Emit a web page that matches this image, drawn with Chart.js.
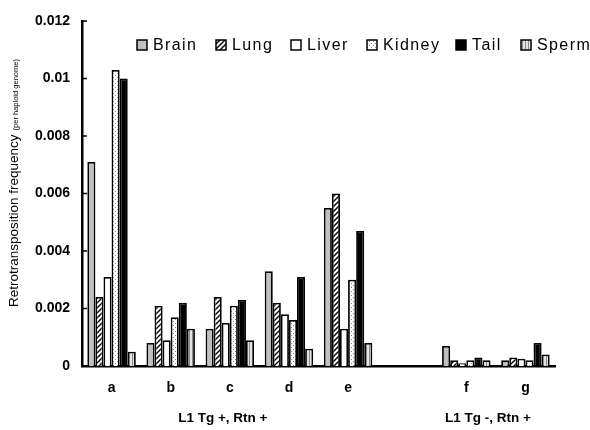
<!DOCTYPE html>
<html>
<head>
<meta charset="utf-8">
<script src="https://cdn.jsdelivr.net/npm/chart.js"></script>
<style>
  html, body { margin: 0; padding: 0; background: #fff; }
  #wrap { width: 590px; height: 430px; }
</style>
</head>
<body>
<div id="wrap"><canvas id="chart"></canvas></div>
<script>
// samples a-e are L1 Tg +, f-g are L1 Tg -; the '' slot is just the gap between the two groups
const samples = ['a', 'b', 'c', 'd', 'e', '', 'f', 'g'];
const tissues = ['Brain', 'Lung', 'Liver', 'Kidney', 'Tail', 'Sperm'];

const brain  = [0.0071, 0.0008, 0.0013, 0.0033, 0.0055, null, 0.0007, 0.0002];
const lung   = [0.0024, 0.0021, 0.0024, 0.0022, 0.0060, null, 0.0002, 0.0003];
const liver  = [0.0031, 0.0009, 0.0015, 0.0018, 0.0013, null, 0.0001, 0.00025];
const kidney = [0.0103, 0.0017, 0.0021, 0.0016, 0.0030, null, 0.0002, 0.0002];
const tail   = [0.0100, 0.0022, 0.0023, 0.0031, 0.0047, null, 0.0003, 0.0008];
const sperm  = [0.0005, 0.0013, 0.0009, 0.0006, 0.0008, null, 0.0002, 0.0004];

const yTicks = [0, 0.002, 0.004, 0.006, 0.008, 0.01, 0.012];
const groupLabels = ['L1 Tg +, Rtn +', 'L1 Tg -, Rtn +'];

// little offscreen tiles for the black & white fills
const makeTile = (w, h, paint) => {
  const c = document.createElement('canvas');
  c.width = w; c.height = h;
  const g = c.getContext('2d');
  paint(g);
  return g.createPattern(c, 'repeat');
};

const hatchFill = makeTile(5, 5, (g) => {
  g.fillStyle = '#fff';
  g.fillRect(0, 0, 5, 5);
  g.strokeStyle = '#000';
  g.lineWidth = 1.4;
  g.beginPath();
  g.moveTo(-1, 6); g.lineTo(6, -1);
  g.moveTo(-1, 1); g.lineTo(1, -1);
  g.moveTo(4, 6); g.lineTo(6, 4);
  g.stroke();
});

const dotFill = makeTile(4, 4, (g) => {
  g.fillStyle = '#fff';
  g.fillRect(0, 0, 4, 4);
  g.fillStyle = '#888';
  g.fillRect(1, 1, 1, 1);
  g.fillRect(3, 3, 1, 1);
});

const stripeFill = makeTile(3, 3, (g) => {
  g.fillStyle = '#e4e4e4';
  g.fillRect(0, 0, 3, 3);
  g.fillStyle = '#8a8a8a';
  g.fillRect(0, 0, 1, 3);
});

const fills = ['#c0c0c0', hatchFill, '#fff', dotFill, '#000', stripeFill];
const series = [brain, lung, liver, kidney, tail, sperm];

const datasets = tissues.map((name, i) => ({
  label: name,
  data: series[i],
  backgroundColor: fills[i],
  borderColor: '#000',
  borderWidth: 1.8,
  categoryPercentage: 0.82,
  barPercentage: 1.0,
}));

// legend boxes sit inside the plot area, so draw them by hand
const legendX = [137, 216, 291, 367, 456, 521];

const extrasPlugin = {
  id: 'extras',
  afterDraw(chart) {
    const ctx = chart.ctx;
    const x = chart.scales.x;
    const y = chart.scales.y;
    const area = chart.chartArea;
    ctx.save();

    // inward tick marks on the y axis
    ctx.strokeStyle = '#000';
    ctx.lineWidth = 1.5;
    yTicks.forEach((v) => {
      const py = y.getPixelForValue(v);
      ctx.beginPath();
      ctx.moveTo(area.left, py);
      ctx.lineTo(area.left + 5, py);
      ctx.stroke();
    });

    // legend
    ctx.font = '16px "Liberation Sans", Arial, sans-serif';
    ctx.letterSpacing = '1.4px';
    ctx.textBaseline = 'middle';
    ctx.textAlign = 'left';
    tissues.forEach((name, i) => {
      const bx = legendX[i];
      ctx.fillStyle = fills[i];
      ctx.fillRect(bx, 40, 10, 10);
      ctx.lineWidth = 1.5;
      ctx.strokeStyle = '#000';
      ctx.strokeRect(bx, 40, 10, 10);
      ctx.fillStyle = '#000';
      ctx.fillText(name, bx + 16, 46);
    });
    ctx.letterSpacing = '0px';

    // group captions under the sample letters
    ctx.font = 'bold 13.5px "Liberation Sans", Arial, sans-serif';
    ctx.textAlign = 'center';
    ctx.fillStyle = '#000';
    const g1 = (x.getPixelForValue(0) + x.getPixelForValue(4)) / 2 - 7;
    const g2 = (x.getPixelForValue(6) + x.getPixelForValue(7)) / 2 - 8;
    ctx.fillText(groupLabels[0], g1, 418);
    ctx.fillText(groupLabels[1], g2, 418);

    // y axis title with the small unit note
    ctx.translate(18, 307);
    ctx.rotate(-Math.PI / 2);
    ctx.textAlign = 'left';
    ctx.textBaseline = 'alphabetic';
    ctx.font = '13.5px "Liberation Sans", Arial, sans-serif';
    const main = 'Retrotransposition frequency';
    ctx.fillText(main, 0, 0);
    const w = ctx.measureText(main).width;
    ctx.font = '7.5px "Liberation Sans", Arial, sans-serif';
    ctx.fillText('(per haploid genome)', w + 4, 0);

    ctx.restore();
  }
};

new Chart(document.getElementById('chart'), {
  type: 'bar',
  data: { labels: samples, datasets: datasets },
  options: {
    responsive: true,
    maintainAspectRatio: false,
    animation: false,
    layout: { padding: { top: 21, right: 35, left: 0, bottom: 0 } },
    plugins: {
      legend: { display: false },
      tooltip: { enabled: false },
    },
    scales: {
      x: {
        grid: { display: false, drawTicks: false },
        border: { display: true, color: '#000', width: 2.5 },
        ticks: {
          color: '#000',
          font: { family: '"Liberation Sans", Arial, sans-serif', size: 14, weight: 'bold' },
          padding: 14,
          maxRotation: 0,
          autoSkip: false,
        },
        afterFit: (scale) => { scale.height = 64; },
      },
      y: {
        min: 0,
        max: 0.012,
        afterBuildTicks: (scale) => { scale.ticks = yTicks.map((v) => ({ value: v })); },
        grid: { display: false, drawTicks: false },
        border: { display: true, color: '#000', width: 2.5 },
        ticks: {
          color: '#000',
          font: { family: '"Liberation Sans", Arial, sans-serif', size: 14, weight: 'bold' },
          padding: 12,
          callback: (v) => (v === 0 ? '0' : String(+v.toFixed(3))),
        },
        afterFit: (scale) => { scale.width = 82; },
      },
    },
  },
  plugins: [extrasPlugin],
});
</script>
</body>
</html>
